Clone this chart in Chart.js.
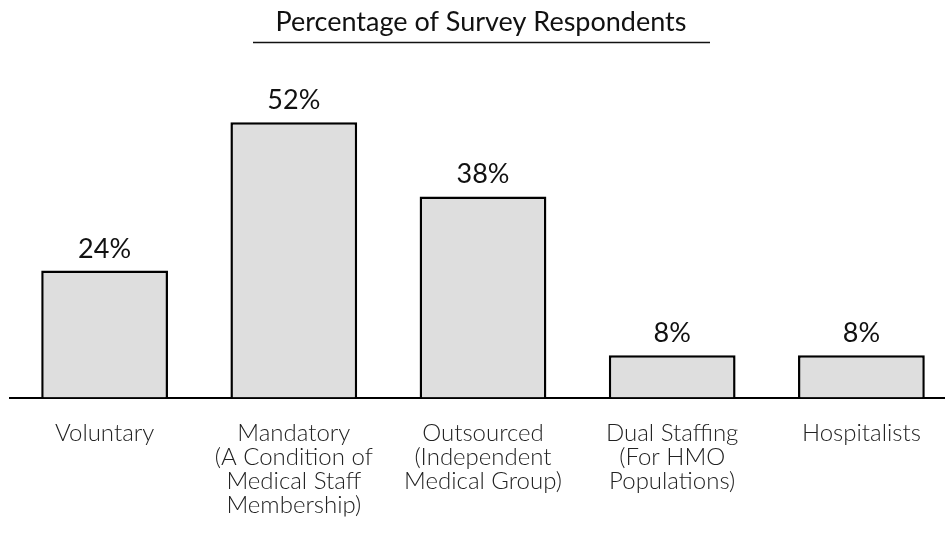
<!DOCTYPE html>
<html>
<head>
<meta charset="utf-8">
<script src="https://cdn.jsdelivr.net/npm/chart.js@4"></script>
<style>
html,body{margin:0;padding:0;background:#fff;overflow:hidden;width:945px;height:533px;}
#wrap{position:relative;width:956px;height:533px;}
</style>
</head>
<body>
<div id="wrap"><canvas id="c" width="956" height="533"></canvas></div>
<script>
const categories = [
  ["Voluntary"],
  ["Mandatory", "(A Condition of", "Medical Staff", "Membership)"],
  ["Outsourced", "(Independent", "Medical Group)"],
  ["Dual Staffing", "(For HMO", "Populations)"],
  ["Hospitalists"]
];
const values = [24, 52, 38, 8, 8];
const valueLabels = ["24%", "52%", "38%", "8%", "8%"];
const chartTitle = "Percentage of Survey Respondents";

const FONT = "Lato, 'Open Sans', sans-serif";

const decor = {
  id: 'decor',
  afterDraw(chart) {
    const ctx = chart.ctx;
    ctx.save();
    // title
    ctx.fillStyle = '#111';
    ctx.font = '27px ' + FONT;
    ctx.textAlign = 'center';
    ctx.textBaseline = 'alphabetic';
    const cx = 481;
    ctx.fillText(chartTitle, cx, 31);
    ctx.strokeStyle = '#111';
    ctx.lineWidth = 1.5;
    ctx.beginPath();
    ctx.moveTo(253, 42.5);
    ctx.lineTo(710, 42.5);
    ctx.stroke();
    // value labels
    const meta = chart.getDatasetMeta(0);
    ctx.font = '27px ' + FONT;
    meta.data.forEach((bar, i) => {
      ctx.fillText(valueLabels[i], bar.x, bar.y - 13);
    });
    ctx.restore();
  }
};

new Chart(document.getElementById('c'), {
  type: 'bar',
  data: {
    labels: categories,
    datasets: [{
      data: values,
      backgroundColor: '#dedede',
      borderColor: '#000',
      borderWidth: 2.5,
      borderSkipped: 'bottom',
      barPercentage: 0.67,
      categoryPercentage: 1
    }]
  },
  options: {
    responsive: false,
    animation: false,
    devicePixelRatio: 1,
    layout: { padding: { top: 80, left: 10, right: 0, bottom: 16.5 } },
    plugins: { legend: { display: false }, tooltip: { enabled: false }, title: { display: false } },
    scales: {
      y: { display: false, min: 0, max: 60 },
      x: {
        afterFit(scale) { scale.height = 119; },
        grid: { display: false, drawTicks: false },
        border: { display: true, color: '#000', width: 2 },
        ticks: {
          color: '#222',
          font: { family: FONT, size: 24, weight: 300, lineHeight: 1.0 },
          padding: 23.5,
          maxRotation: 0,
          autoSkip: false
        }
      }
    }
  },
  plugins: [decor]
});
</script>
</body>
</html>
